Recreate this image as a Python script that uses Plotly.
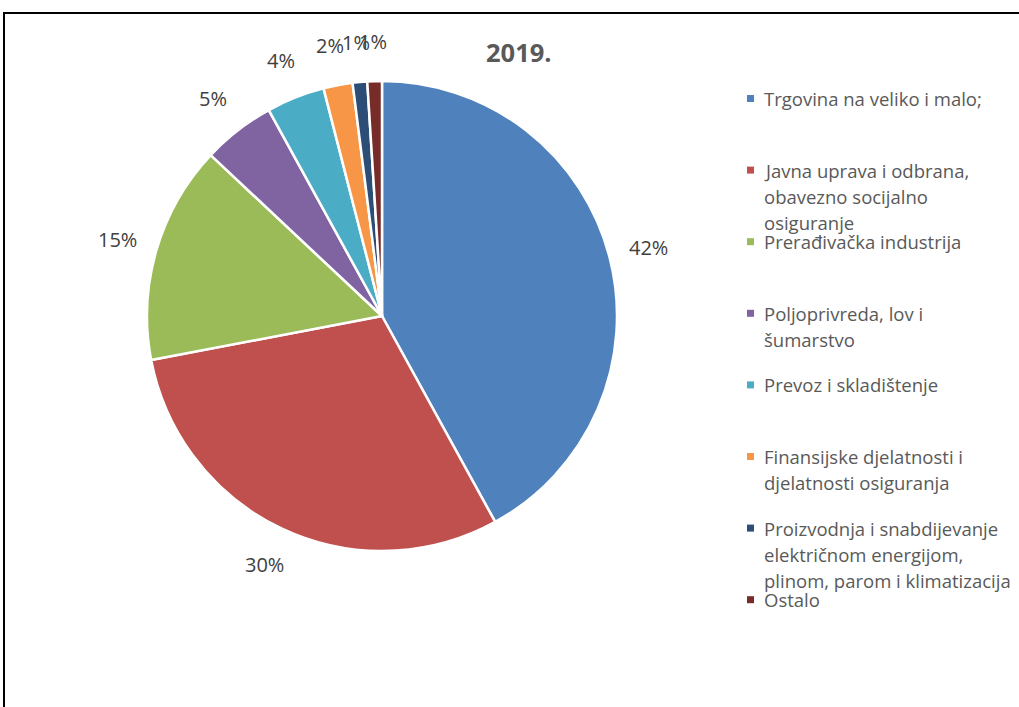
import math
import plotly.graph_objects as go

# ---- data ----
categories = [
    "Trgovina na veliko i malo;",
    "Javna uprava i odbrana,<br>obavezno socijalno<br>osiguranje",
    "Prerađivačka industrija",
    "Poljoprivreda, lov i<br>šumarstvo",
    "Prevoz i skladištenje",
    "Finansijske djelatnosti i<br>djelatnosti osiguranja",
    "Proizvodnja i snabdijevanje<br>električnom energijom,<br>plinom, parom i klimatizacija",
    "Ostalo",
]
values = [42, 30, 15, 5, 4, 2, 1, 1]
colors = ["#4F81BD", "#C0504D", "#9BBB59", "#8064A2", "#4BACC6", "#F79646", "#2C4D75", "#772C2A"]
title_text = "2019."

W, H = 1019, 707
FONT = "Open Sans, sans-serif"

def px(x):
    return x / W

def py(y):
    return 1 - y / H

# pie geometry (pixels)
cx, cy, R = 382, 316, 235

fig = go.Figure(go.Pie(
    labels=[c.replace("<br>", " ") for c in categories],
    values=values,
    sort=False,
    direction="clockwise",
    rotation=0,
    marker=dict(colors=colors, line=dict(color="white", width=2.5)),
    textinfo="none",
    showlegend=False,
    domain=dict(x=[px(cx - R), px(cx + R)], y=[py(cy + R), py(cy - R)]),
))

annotations = []
# percent labels computed from data
total = sum(values)
cum = 0
for v in values:
    mid = (cum + v / 2) / total * 2 * math.pi
    cum += v
    r = R * 1.17
    lx = cx + r * math.sin(mid)
    ly = cy - r * math.cos(mid)
    annotations.append(dict(
        x=px(lx), y=py(ly), xref="paper", yref="paper",
        text=f"{round(v / total * 100)}%", showarrow=False,
        xanchor="center", yanchor="middle",
        font=dict(family=FONT, size=20, color="#404040"),
    ))

# title
annotations.append(dict(
    x=px(518.5), y=py(52), xref="paper", yref="paper", text=f"<b>{title_text}</b>",
    showarrow=False, xanchor="center", yanchor="middle",
    font=dict(family=FONT, size=25.5, color="#595959"),
))

# manual legend
shapes = []
leg_x_sq, leg_x_txt = 747, 762
leg_y0, leg_step, line_step, sq = 98.5, 71.6, 26, 7
for i, (cat, col) in enumerate(zip(categories, colors)):
    yy = leg_y0 + i * leg_step
    shapes.append(dict(type="rect", xref="paper", yref="paper",
                       x0=px(leg_x_sq), x1=px(leg_x_sq + sq),
                       y0=py(yy + sq / 2), y1=py(yy - sq / 2),
                       fillcolor=col, line=dict(width=0)))
    for j, line in enumerate(cat.split("<br>")):
        annotations.append(dict(
            x=px(leg_x_txt), y=py(yy + j * line_step), xref="paper", yref="paper",
            text=line, showarrow=False, xanchor="left", yanchor="middle",
            font=dict(family=FONT, size=18.5, color="#595959"),
        ))

# outer frame (top & left visible)
shapes.append(dict(type="rect", xref="paper", yref="paper",
                   x0=px(4), x1=px(W + 10), y0=py(H + 10), y1=py(13),
                   line=dict(color="black", width=2), fillcolor="rgba(0,0,0,0)"))

fig.update_layout(
    width=W, height=H,
    margin=dict(l=0, r=0, t=0, b=0),
    paper_bgcolor="white", plot_bgcolor="white",
    annotations=annotations, shapes=shapes,
)

fig.write_html("out.html", config={"displayModeBar": False},
               post_script="document.body.style.margin='0px';")
